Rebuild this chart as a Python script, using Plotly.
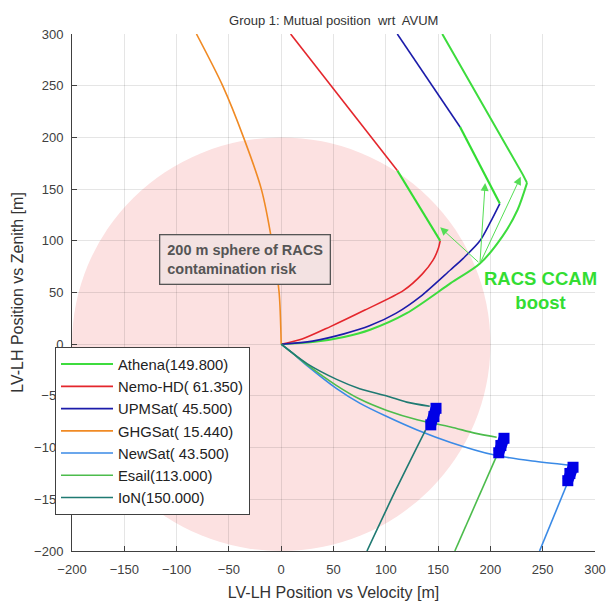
import plotly.graph_objects as go

# ---------------- data ----------------
names = ["Athena(149.800)", "Nemo-HD( 61.350)", "UPMSat( 45.500)", "GHGSat( 15.440)",
         "NewSat( 43.500)", "Esail(113.000)", "IoN(150.000)"]
colors = ["#3ddc3d", "#e4262c", "#1c1caa", "#f08a24", "#3a8ae6", "#4cbc4c", "#1f7a72"]

# Athena (entire trajectory drawn green)
athena_x = [0, 30, 60, 85, 120, 162, 190, 212, 226, 235]
athena_y = [0, 2, 7, 14, 30, 59, 78, 105, 130, 156]
athena_after_x = [235, 231, 154]
athena_after_y = [156, 164, 300]

# Nemo-HD
nemo_x = [0, 20, 47, 80, 117, 135, 145, 150, 152]
nemo_y = [0, 5, 17, 33, 52, 68, 81, 92, 100]
nemo_boost_x = [152, 111]
nemo_boost_y = [100, 168]
nemo_after_x = [111, 9]
nemo_after_y = [168, 300]

# UPMSat
upm_x = [0, 30, 60, 85, 110, 133, 162, 174, 190, 200, 209]
upm_y = [0, 3, 10, 18, 30, 46, 72, 83, 100, 118, 136]
upm_boost_x = [209, 171]
upm_boost_y = [136, 210]
upm_after_x = [171, 111]
upm_after_y = [210, 300]

# GHGSat
ghg_x = [0, -2, -9, -19, -36, -56, -81]
ghg_y = [0, 50, 100, 150, 200, 250, 300]

# NewSat
newsat_x = [0, 10, 25, 53, 75, 101, 130, 162, 203, 240, 276]
newsat_y = [0, -8, -21, -43, -57, -70, -83, -95, -107, -113, -117]
newsat_blob_x = [279, 276, 274]
newsat_blob_y = [-119, -125, -132]
newsat_after_x = [273, 247]
newsat_after_y = [-136, -200]

# Esail
esail_x = [0, 10, 25, 53, 75, 101, 130, 162, 185, 206]
esail_y = [0, -8, -20, -40, -53, -64, -73, -80, -86, -90]
esail_blob_x = [213, 210, 208]
esail_blob_y = [-91, -98, -105]
esail_after_x = [206, 166]
esail_after_y = [-108, -200]

# IoN
ion_x = [0, 10, 25, 53, 75, 101, 120, 142]
ion_y = [0, -8, -19, -34, -43, -50, -56, -60]
ion_blob_x = [148, 146, 143]
ion_blob_y = [-62, -70, -78]
ion_after_x = [138, 110, 82]
ion_after_y = [-83, -140, -200]

# boost arrows: tail (x, y) -> head (x, y)
arrow_tail = (190, 78)
arrow_heads_x = [152, 195, 229]
arrow_heads_y = [113, 156, 162]

sphere_radius = 200
x_ticks = [-200, -150, -100, -50, 0, 50, 100, 150, 200, 250, 300]
y_ticks = [-200, -150, -100, -50, 0, 50, 100, 150, 200, 250, 300]

boost_green = "#33dd33"
blob_blue = "#0000e6"

# ---------------- figure ----------------
fig = go.Figure()

def add(x, y, color, name=None, group=None, show=False, width=1.6, smooth=True):
    fig.add_trace(go.Scatter(x=x, y=y, mode="lines", name=name,
                             line=dict(color=color, width=width,
                                       shape="spline" if smooth else "linear",
                                       smoothing=0.8),
                             legendgroup=group, showlegend=show,
                             hoverinfo="skip"))

def add_blob(x, y, group):
    fig.add_trace(go.Scatter(x=x, y=y, mode="lines+markers",
                             line=dict(color=blob_blue, width=11),
                             marker=dict(color=blob_blue, size=11, symbol="square"),
                             legendgroup=group, showlegend=False, hoverinfo="skip"))

# legend-carrying traces in order
add(athena_x, athena_y, colors[0], names[0], "g0", True, 2.0)
add(nemo_x, nemo_y, colors[1], names[1], "g1", True)
add(upm_x, upm_y, colors[2], names[2], "g2", True)
add(ghg_x, ghg_y, colors[3], names[3], "g3", True)
add(newsat_x, newsat_y, colors[4], names[4], "g4", True)
add(esail_x, esail_y, colors[5], names[5], "g5", True)
add(ion_x, ion_y, colors[6], names[6], "g6", True)

# continuation segments
add(athena_after_x, athena_after_y, colors[0], group="g0", width=2.0, smooth=False)
add(nemo_boost_x, nemo_boost_y, boost_green, group="g1", width=2.2, smooth=False)
add(nemo_after_x, nemo_after_y, colors[1], group="g1", smooth=False)
add(upm_boost_x, upm_boost_y, boost_green, group="g2", width=2.2, smooth=False)
add(upm_after_x, upm_after_y, colors[2], group="g2", smooth=False)
add(newsat_after_x, newsat_after_y, colors[4], group="g4", smooth=False)
add(esail_after_x, esail_after_y, colors[5], group="g5", smooth=False)
add(ion_after_x, ion_after_y, colors[6], group="g6")
add_blob(newsat_blob_x, newsat_blob_y, "g4")
add_blob(esail_blob_x, esail_blob_y, "g5")
add_blob(ion_blob_x, ion_blob_y, "g6")

# sphere of contamination risk
fig.add_shape(type="circle", xref="x", yref="y",
              x0=-sphere_radius, y0=-sphere_radius, x1=sphere_radius, y1=sphere_radius,
              fillcolor="#fce1e1", line=dict(width=0), layer="below")

# annotations
fig.add_annotation(x=-117, y=107, xref="x", yref="y", xanchor="left", yanchor="top",
                   text="<b>200 m sphere of RACS<br>contamination risk</b>", align="left",
                   showarrow=False, font=dict(family="Liberation Sans", size=14.5, color="#555555"),
                   bgcolor="#f3e2e2", bordercolor="#555555", borderwidth=1.3, borderpad=7)

fig.add_annotation(x=248, y=52, xref="x", yref="y", xanchor="center", yanchor="middle",
                   text="<b>RACS CCAM<br>boost</b>", align="center", showarrow=False,
                   font=dict(family="Liberation Sans", size=18.5, color=boost_green))

for hx, hy in zip(arrow_heads_x, arrow_heads_y):
    fig.add_annotation(x=hx, y=hy, ax=arrow_tail[0], ay=arrow_tail[1],
                       xref="x", yref="y", axref="x", ayref="y", text="",
                       showarrow=True, arrowhead=2, arrowsize=1.6, arrowwidth=1,
                       arrowcolor="#55dd55")

axis_common = dict(showgrid=True, gridcolor="rgba(0,0,0,0.10)", gridwidth=1,
                   zeroline=False, showline=True, linecolor="#404040", linewidth=1,
                   ticks="inside", ticklen=5, tickcolor="#404040",
                   tickfont=dict(family="Liberation Sans", size=13, color="#404040"),
                   mirror=False)

fig.update_xaxes(range=[-200, 300], tickvals=x_ticks, **axis_common,
                 title=dict(text="LV-LH Position vs Velocity [m]",
                            font=dict(family="Liberation Sans", size=16, color="#333333"),
                            standoff=11),
                 ticklabelstandoff=6)
fig.update_yaxes(range=[-200, 300], tickvals=y_ticks, **axis_common,
                 title=dict(text="LV-LH Position vs Zenith [m]",
                            font=dict(family="Liberation Sans", size=16, color="#333333"),
                            standoff=6),
                 ticklabelstandoff=5)

fig.update_layout(
    width=609, height=606,
    margin=dict(l=72, r=14, t=34, b=55, autoexpand=False),
    paper_bgcolor="white", plot_bgcolor="white",
    title=dict(text="Group 1: Mutual position  wrt  AVUM", x=0.548, xanchor="center",
               y=0.967, yanchor="middle",
               font=dict(family="Liberation Sans", size=13, color="#333333")),
    legend=dict(x=-0.0325, y=0.3946, xanchor="left", yanchor="top",
                bgcolor="white", bordercolor="#404040", borderwidth=1,
                font=dict(family="Liberation Sans", size=14.8, color="#222222"),
                tracegroupgap=0, itemwidth=52),
    showlegend=True,
)

# remove the default page margin so the figure sits at the window's top-left corner
fig.write_html("out.html", config={"displayModeBar": False},
               post_script="document.body.style.margin='0';document.body.style.overflow='hidden';")
